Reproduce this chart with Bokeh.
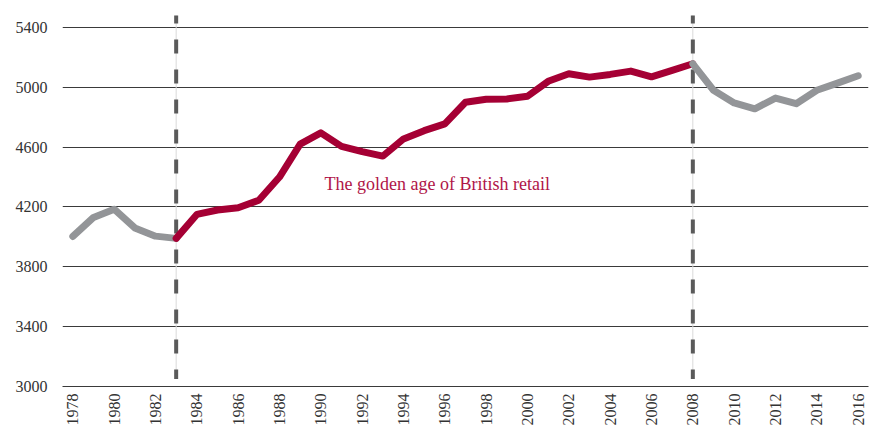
from bokeh.plotting import figure
from bokeh.models import FixedTicker, Range1d
from bokeh.core.properties import value
from bokeh.embed import file_html
from bokeh.resources import INLINE
import math

years = list(range(1978, 2017))
sales = [4003, 4130, 4185, 4060, 4005, 3990, 4150, 4180, 4195, 4245,
         4400, 4620, 4695, 4605, 4570, 4540, 4655, 4710, 4755, 4900,
         4920, 4922, 4940, 5040, 5090, 5068, 5086, 5108, 5070, 5113,
         5157, 4980, 4895, 4856, 4928, 4890, 4980, 5028, 5077]
golden_start = 1983
golden_end = 2008
event_years = [1983, 2008]
x_ticks = list(range(1978, 2017, 2))
y_ticks = [3000, 3400, 3800, 4200, 4600, 5000, 5400]
annotation_text = "The golden age of British retail"
annotation_x = 1995.63
annotation_y = 4354
marker_bottom = 3050
marker_top = 5480

RED = "#A50034"
GREY = "#939598"
FONT = "Liberation Serif"

p = figure(width=875, height=429, output_backend="svg", toolbar_location=None,
           x_range=Range1d(1977.5, 2016.5), y_range=Range1d(3000, 5580),
           min_border_left=62, min_border_right=7, min_border_top=0,
           min_border_bottom=43)
p.outline_line_color = None
p.background_fill_color = "white"
p.border_fill_color = "white"

# grid
p.xgrid.visible = False
p.ygrid.ticker = FixedTicker(ticks=y_ticks)
p.ygrid.grid_line_color = "#3a3a3a"
p.ygrid.grid_line_width = 1

# axes
p.yaxis.ticker = FixedTicker(ticks=y_ticks)
p.yaxis.axis_line_color = None
p.yaxis.major_tick_line_color = None
p.yaxis.minor_tick_line_color = None
p.yaxis.major_tick_out = 0
p.yaxis.major_tick_in = 0
p.yaxis.major_label_standoff = 15
p.yaxis.major_label_text_font = FONT
p.yaxis.major_label_text_font_size = "16px"
p.yaxis.major_label_text_color = "#333333"

p.xaxis.ticker = FixedTicker(ticks=x_ticks)
p.xaxis.major_label_overrides = {y: str(y) for y in x_ticks}
p.xaxis.axis_line_color = "#3a3a3a"
p.xaxis.major_tick_line_color = None
p.xaxis.minor_tick_line_color = None
p.xaxis.major_tick_out = 0
p.xaxis.major_tick_in = 0
p.xaxis.major_label_standoff = 7
p.xaxis.major_label_orientation = math.pi / 2
p.xaxis.major_label_text_font = FONT
p.xaxis.major_label_text_font_size = "16px"
p.xaxis.major_label_text_color = "#333333"

# event markers
for ev in event_years:
    p.segment(x0=ev, y0=marker_bottom, x1=ev, y1=marker_top,
              line_color="#d9d9d9", line_width=1)
    p.segment(x0=ev, y0=marker_top, x1=ev, y1=marker_bottom,
              line_color="#5a5a5a", line_width=4, line_dash="14 16",
              line_dash_offset=6)

# series
i0 = years.index(golden_start)
i1 = years.index(golden_end)
p.line(years[:i0 + 1], sales[:i0 + 1], line_color=GREY, line_width=7,
       line_cap="round", line_join="round")
p.line(years[i0:i1 + 1], sales[i0:i1 + 1], line_color=RED, line_width=7,
       line_cap="round", line_join="round")
p.line(years[i1:], sales[i1:], line_color=GREY, line_width=7,
       line_cap="round", line_join="round")

p.text(x=[annotation_x], y=[annotation_y], text=[annotation_text],
       text_font=value(FONT), text_font_size="18px", text_color="#B01548",
       text_align="center", text_baseline="middle")

open("out.html", "w").write(file_html(p, INLINE))
